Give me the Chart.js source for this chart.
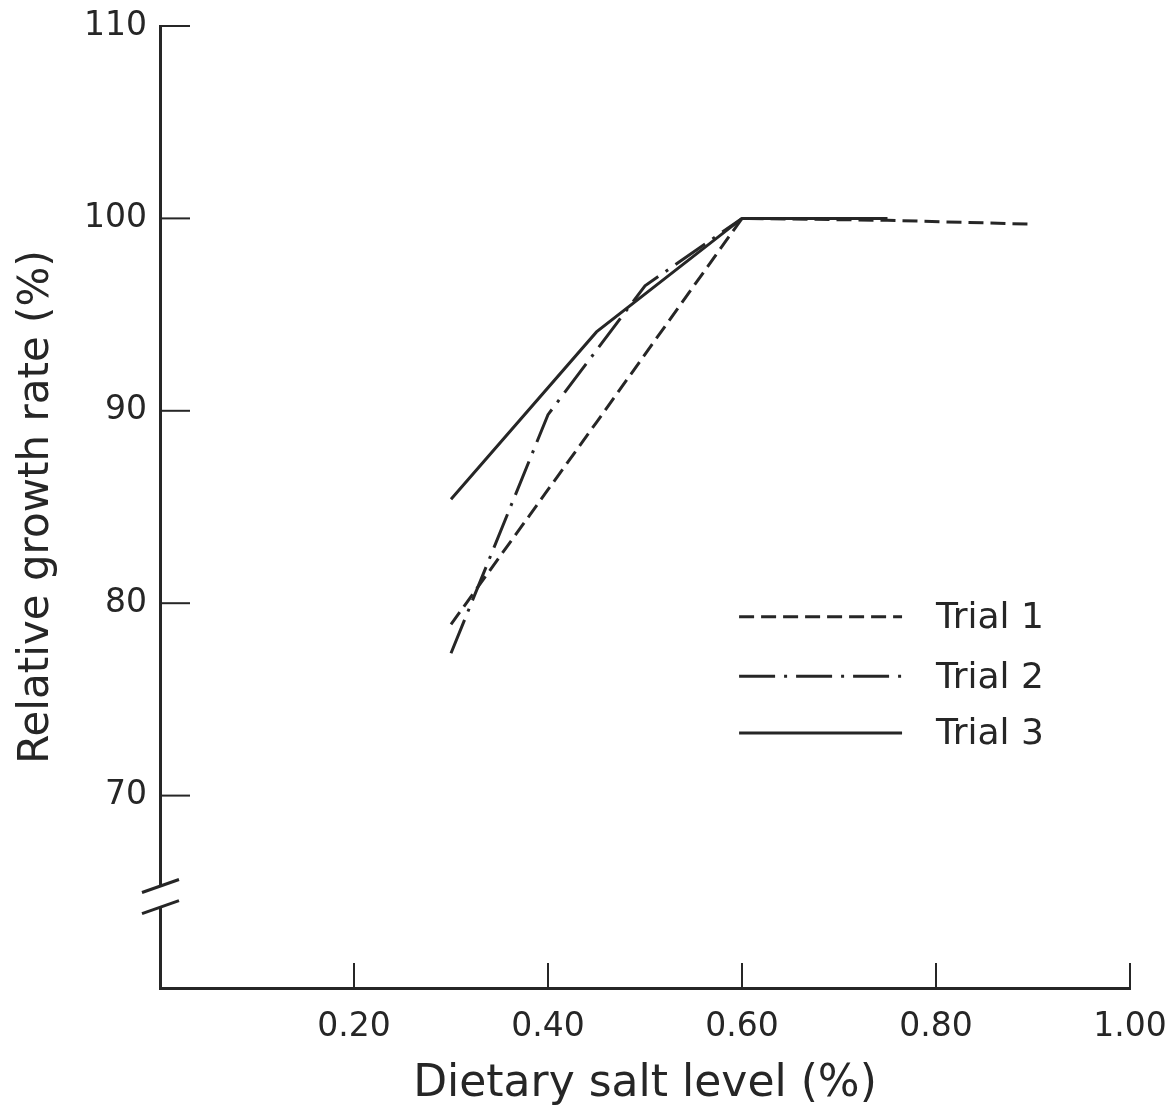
<!DOCTYPE html>
<html>
<head>
<meta charset="utf-8">
<title>Relative growth rate vs dietary salt level</title>
<script src="https://cdn.jsdelivr.net/npm/chart.js@4.4.1/dist/chart.umd.min.js"></script>
<style>
  html, body { margin: 0; padding: 0; background: #fff; }
  #wrap { width: 1166px; height: 1117px; position: relative; }
</style>
</head>
<body>
<div id="wrap"><canvas id="chart"></canvas></div>
<script>
// ---- data ----
const trialLabels = ['Trial 1', 'Trial 2', 'Trial 3'];

const trial1Salt = [0.30, 0.45, 0.60, 0.75, 0.90];
const trial1Rate = [78.9, 89.4, 100, 99.9, 99.7];

const trial2Salt = [0.30, 0.40, 0.50, 0.60];
const trial2Rate = [77.4, 89.8, 96.5, 100];

const trial3Salt = [0.30, 0.45, 0.60, 0.75];
const trial3Rate = [85.4, 94.1, 100, 100];

const xTickValues = [0.20, 0.40, 0.60, 0.80, 1.00];
const yTickValues = [70, 80, 90, 100, 110];

const INK = '#262626';
const FONT = "'DejaVu Sans', sans-serif";

function toPoints(xs, ys) {
  return xs.map((x, i) => ({ x: x, y: ys[i] }));
}

// inward ticks, axis break and in-plot legend
const paperPlugin = {
  id: 'paper',
  afterDraw(chart) {
    const { ctx, chartArea: area, scales: { x, y } } = chart;
    ctx.save();
    ctx.strokeStyle = INK;
    ctx.lineCap = 'butt';

    // ticks pointing into the plot
    ctx.lineWidth = 2;
    yTickValues.forEach(v => {
      const py = y.getPixelForValue(v);
      ctx.beginPath();
      ctx.moveTo(area.left, py);
      ctx.lineTo(area.left + 30, py);
      ctx.stroke();
    });
    xTickValues.forEach(v => {
      const px = x.getPixelForValue(v);
      ctx.beginPath();
      ctx.moveTo(px, area.bottom);
      ctx.lineTo(px, area.bottom - 25);
      ctx.stroke();
    });

    // axis break "//"
    const b1 = y.getPixelForValue(65.3);
    const b2 = y.getPixelForValue(64.2);
    ctx.fillStyle = '#fff';
    ctx.fillRect(area.left - 4, b1, 8, b2 - b1);
    ctx.lineWidth = 3;
    [b1, b2].forEach(by => {
      ctx.beginPath();
      ctx.moveTo(area.left - 18, by + 6.5);
      ctx.lineTo(area.left + 19, by - 6.5);
      ctx.stroke();
    });

    // legend
    const lx0 = x.getPixelForValue(0.597);
    const lx1 = x.getPixelForValue(0.765);
    const tx = x.getPixelForValue(0.800);
    const rows = [79.3, 76.2, 73.25];
    ctx.font = '36px ' + FONT;
    ctx.fillStyle = INK;
    ctx.textBaseline = 'middle';
    chart.data.datasets.forEach((ds, i) => {
      const py = y.getPixelForValue(rows[i]);
      ctx.lineWidth = ds.borderWidth;
      ctx.setLineDash(ds.borderDash || []);
      ctx.beginPath();
      ctx.moveTo(lx0, py);
      ctx.lineTo(lx1, py);
      ctx.stroke();
      ctx.setLineDash([]);
      ctx.fillText(ds.label, tx, py + 2);
    });
    ctx.restore();
  }
};

const lineStyle = { borderColor: INK, borderWidth: 3, pointRadius: 0, showLine: true, fill: false, tension: 0 };

new Chart(document.getElementById('chart'), {
  type: 'scatter',
  data: {
    datasets: [
      { ...lineStyle, label: trialLabels[0], data: toPoints(trial1Salt, trial1Rate), borderDash: [15, 7] },
      { ...lineStyle, label: trialLabels[1], data: toPoints(trial2Salt, trial2Rate), borderDash: [36, 9, 3, 9] },
      { ...lineStyle, label: trialLabels[2], data: toPoints(trial3Salt, trial3Rate) },
    ]
  },
  options: {
    responsive: true,
    maintainAspectRatio: false,
    animation: false,
    layout: { padding: { top: 26, right: 36, left: 0, bottom: 0 } },
    plugins: { legend: { display: false }, tooltip: { enabled: false } },
    scales: {
      x: {
        type: 'linear',
        min: 0,
        max: 1.0,
        afterFit: s => { s.height = 129; s.paddingLeft = 0; s.paddingRight = 0; },
        afterBuildTicks: s => { s.ticks = xTickValues.map(v => ({ value: v })); },
        grid: { display: false, drawTicks: false },
        border: { display: true, color: INK, width: 3 },
        ticks: {
          padding: 20,
          color: INK,
          font: { family: FONT, size: 33 },
          callback: v => v.toFixed(2)
        },
        title: {
          display: true,
          text: 'Dietary salt level (%)',
          color: INK,
          font: { family: FONT, size: 44 },
          padding: { top: 0, bottom: 6 }
        }
      },
      y: {
        type: 'linear',
        min: 60,
        max: 110,
        afterFit: s => { s.width = 160; s.paddingTop = 0; s.paddingBottom = 0; },
        afterBuildTicks: s => { s.ticks = yTickValues.map(v => ({ value: v })); },
        grid: { display: false, drawTicks: false },
        border: { display: true, color: INK, width: 3 },
        ticks: {
          padding: 13,
          color: INK,
          font: { family: FONT, size: 33 },
          callback: v => String(v)
        },
        title: {
          display: true,
          text: 'Relative growth rate (%)',
          color: INK,
          font: { family: FONT, size: 42 },
          padding: { top: 12, bottom: 0 }
        }
      }
    }
  },
  plugins: [paperPlugin]
});
</script>
</body>
</html>
